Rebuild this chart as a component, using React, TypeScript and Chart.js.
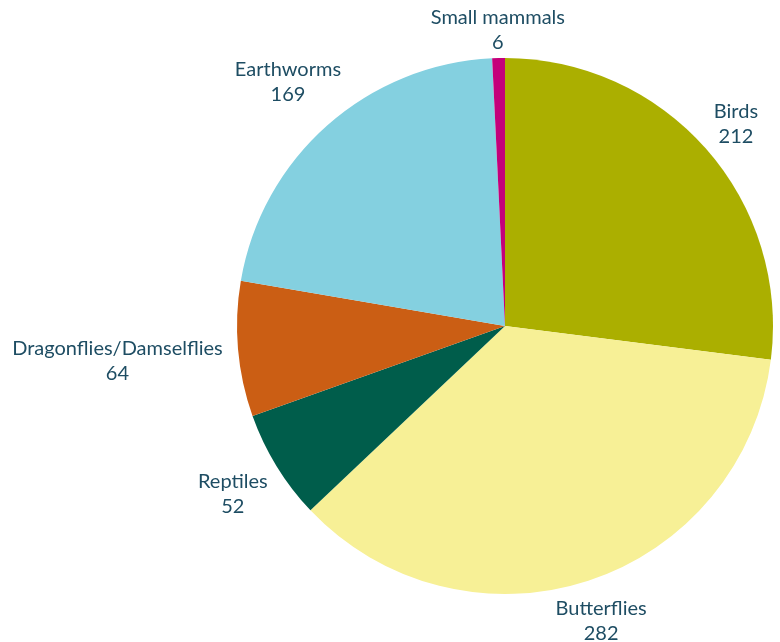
import React, { useEffect, useRef } from "react";
import { Chart, registerables } from "chart.js";

Chart.register(...registerables);

const categories = ["Birds", "Butterflies", "Reptiles", "Dragonflies/Damselflies", "Earthworms", "Small mammals"];
const values = [212, 282, 52, 64, 169, 6];
const colors = ["#ABAF00", "#F7F096", "#005D4B", "#CB5E14", "#84D0E0", "#C4007A"];

const labelPlugin = {
  id: "outerLabels",
  afterDraw(chart: any) {
    const ctx = chart.ctx;
    const meta = chart.getDatasetMeta(0);
    ctx.save();
    ctx.font = "20px Lato";
    ctx.fillStyle = "#1E4D63";
    ctx.textAlign = "center";
    ctx.textBaseline = "middle";
    meta.data.forEach((arc: any, i: number) => {
      const mid = (arc.startAngle + arc.endAngle) / 2;
      const c = Math.cos(mid);
      const s = Math.sin(mid);
      const l1 = categories[i];
      const l2 = String(values[i]);
      const w = Math.max(ctx.measureText(l1).width, ctx.measureText(l2).width);
      const h = 25;
      const d = arc.outerRadius + 15 + (w / 2) * Math.abs(c) + (h / 2) * Math.abs(s);
      const cx = arc.x + d * c;
      const cy = arc.y + d * s + 1.5;
      ctx.fillText(l1, cx, cy - 12.5);
      ctx.fillText(l2, cx, cy + 12.5);
    });
    ctx.restore();
  },
};

export default function App() {
  const ref = useRef<HTMLCanvasElement>(null);
  useEffect(() => {
    const chart = new Chart(ref.current!, {
      type: "pie",
      data: {
        labels: categories,
        datasets: [
          {
            data: values,
            backgroundColor: colors,
            borderWidth: 0,
          },
        ],
      },
      options: {
        animation: false,
        responsive: false,
        layout: { padding: { left: 237, right: 7, top: 58, bottom: 48 } },
        plugins: {
          legend: { display: false },
          tooltip: { enabled: false },
        },
      },
      plugins: [labelPlugin],
    });
    return () => chart.destroy();
  }, []);
  return (
    <div style={{ position: "fixed", left: 0, top: 0, width: 780, height: 642, background: "#fff" }}>
      <canvas ref={ref} width={780} height={642} />
    </div>
  );
}
